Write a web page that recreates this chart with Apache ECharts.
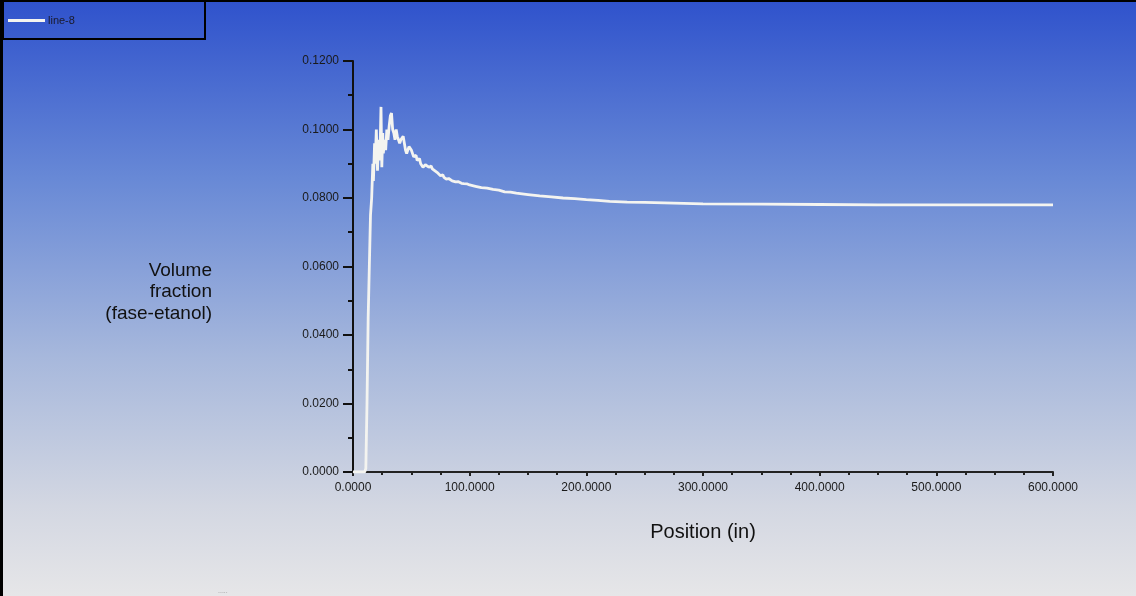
<!DOCTYPE html>
<html><head><meta charset="utf-8">
<script src="https://cdn.jsdelivr.net/npm/echarts@6/dist/echarts.min.js"></script>
<style>html,body{margin:0;padding:0;background:#fff}#c{width:1136px;height:596px}</style>
</head><body><div id="c"></div>
<script>
const seriesName = 'line-8';
const positions = [0, 5, 10, 11, 12, 13, 14, 15, 16, 17, 17.5, 18.5, 19, 20, 21, 22, 23, 24, 24.7, 25.5, 26, 27, 28, 29, 30, 31, 32, 33, 34, 35, 36, 37, 38, 39, 40, 41, 43, 45, 46, 48, 50, 52, 54, 55, 57, 58, 60, 62, 63, 65, 67, 68, 70, 72, 73, 75, 77, 78, 80, 82, 83, 85, 88, 90, 93, 95, 98, 100, 105, 110, 115, 120, 125, 130, 135, 140, 150, 160, 170, 180, 190, 200, 210, 220, 235, 250, 275, 300, 350, 400, 450, 500, 550, 600];
const volumeFraction = [0, 0, 0, 0.001, 0.02, 0.045, 0.06, 0.075, 0.08, 0.09, 0.085, 0.096, 0.09, 0.1, 0.088, 0.097, 0.091, 0.1066, 0.089, 0.099, 0.093, 0.097, 0.094, 0.1, 0.097, 0.101, 0.104, 0.1048, 0.1, 0.099, 0.097, 0.1, 0.098, 0.097, 0.096, 0.097, 0.098, 0.094, 0.093, 0.095, 0.094, 0.092, 0.0925, 0.091, 0.0915, 0.09, 0.089, 0.0897, 0.0895, 0.089, 0.0893, 0.0885, 0.088, 0.0875, 0.087, 0.0865, 0.0868, 0.086, 0.0855, 0.0857, 0.0852, 0.085, 0.0847, 0.0848, 0.0843, 0.0842, 0.0841, 0.0838, 0.0834, 0.083, 0.0829, 0.0825, 0.0823, 0.0818, 0.0817, 0.0814, 0.081, 0.0806, 0.0803, 0.08, 0.0798, 0.0795, 0.0793, 0.079, 0.0788, 0.0787, 0.0785, 0.0783, 0.0782, 0.0781, 0.078, 0.078, 0.078, 0.078];
const xTickStep = 100, yTickStep = 0.02;
const xName = 'Position (in)';
const yName = 'Volume\nfraction\n(fase-etanol)';

const chart = echarts.init(document.getElementById('c'), null, {renderer: 'canvas'});
const font = '"Liberation Sans", Arial, sans-serif';
chart.setOption({
  animation: false,
  textStyle: {fontFamily: font},
  graphic: [
    {type: 'rect', z: -10, silent: true, shape: {x: 0, y: 0, width: 1136, height: 596},
     style: {fill: new echarts.graphic.LinearGradient(0, 0, 0, 1, [
       {offset: 0, color: '#2f52cc'},
       {offset: 0.3, color: '#6889d6'},
       {offset: 0.6, color: '#a7b8dc'},
       {offset: 0.85, color: '#d3d7e2'},
       {offset: 1, color: '#e6e6e8'}])}},
    {type: 'line', z: 10, shape: {x1: 1.5, y1: 0, x2: 1.5, y2: 596}, style: {stroke: '#000', lineWidth: 3}},
    {type: 'line', z: 10, shape: {x1: 0, y1: 1, x2: 1136, y2: 1}, style: {stroke: '#000', lineWidth: 2}},
    {type: 'rect', z: 10, shape: {x: 3, y: 1, width: 202, height: 38}, style: {fill: 'none', stroke: '#000', lineWidth: 2}},
    {type: 'text', z: 10, x: 218, y: 588, style: {text: '.....', fill: '#999', fontSize: 7}},
    {type: 'text', z: 10, x: 212, y: 260,
     style: {text: yName, fill: '#111', fontSize: 19, fontFamily: font, align: 'right', textAlign: 'right', lineHeight: 21.5}}
  ],
  legend: {
    data: [seriesName], left: 8, top: 15, padding: 0, icon: 'rect', itemWidth: 37, itemHeight: 3, itemGap: 2,
    textStyle: {fontSize: 11, color: '#1a1a2a', fontFamily: font, padding: [0, 0, 0, -2]}
  },
  grid: {left: 353, right: 83, top: 61, bottom: 124, containLabel: false},
  xAxis: {
    type: 'value', min: 0, max: 600, interval: xTickStep,
    name: xName, nameLocation: 'middle', nameGap: 50,
    nameTextStyle: {fontSize: 20, color: '#111', fontFamily: font},
    axisLine: {onZero: false, lineStyle: {color: '#222', width: 2}},
    axisTick: {show: true, length: 4, lineStyle: {color: '#222', width: 2}},
    minorTick: {show: true, splitNumber: 4, length: 3, lineStyle: {color: '#222', width: 2}},
    axisLabel: {fontSize: 12, color: '#1a1a1a', margin: 10, formatter: v => v.toFixed(4)},
    splitLine: {show: false}
  },
  yAxis: {
    type: 'value', min: 0, max: 0.12, interval: yTickStep,
    axisLine: {show: true, lineStyle: {color: '#111', width: 2}},
    axisTick: {show: true, length: 10, lineStyle: {color: '#111', width: 2}},
    minorTick: {show: true, splitNumber: 2, length: 5, lineStyle: {color: '#111', width: 2}},
    axisLabel: {fontSize: 12, color: '#1a1a1a', margin: 14, formatter: v => v.toFixed(4)},
    splitLine: {show: false}
  },
  series: [{
    name: seriesName, type: 'line', showSymbol: false, symbol: 'none',
    data: positions.map((p, i) => [p, volumeFraction[i]]),
    lineStyle: {color: '#f4f4f0', width: 2.8},
    itemStyle: {color: '#f4f4f0'}
  }]
});
</script></body></html>
